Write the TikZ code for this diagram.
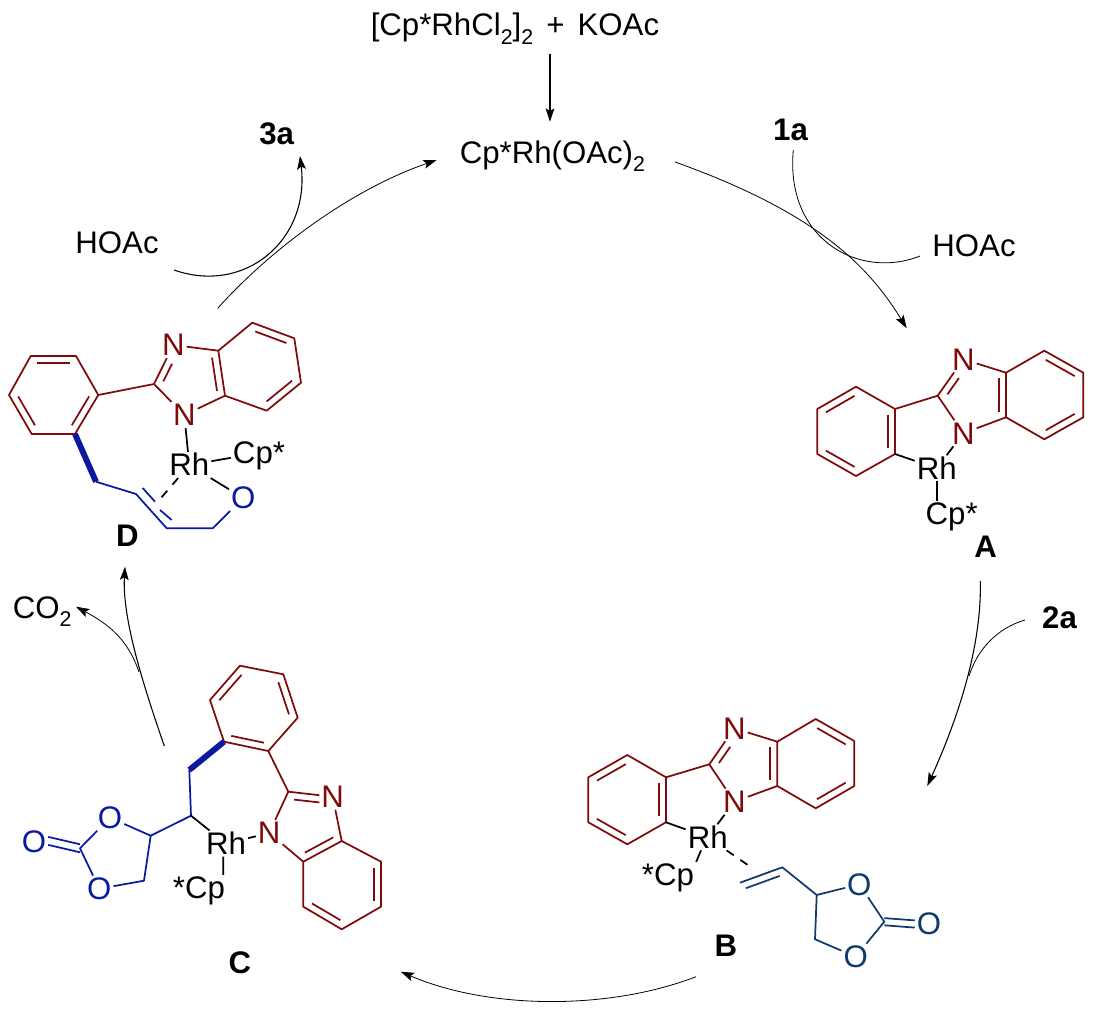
\documentclass[tikz,border=0pt]{standalone}
\usepackage{fontspec}
\setmainfont{Liberation Sans}
\usetikzlibrary{arrows.meta,calc}
\definecolor{mar}{HTML}{7F0A0A}
\definecolor{blu}{HTML}{0A1AA0}
\definecolor{nav}{HTML}{0F3A6B}
\newcommand\sbs[1]{\raisebox{-0.27em}{\fontsize{16}{18}\selectfont #1}}
% inner line of a double bond: from, to, angle, start fraction, end fraction
\newcommand\inb[5]{\draw ($(#1)!#4!(#2)!5.4pt!#3:(#2)$) -- ($(#1)!#5!(#2)!5.4pt!#3:(#2)$);}
\newcommand\rin[2]{\inb{#1}{#2}{-90}{.13}{.87}}
\tikzset{
  atom/.style={inner sep=1.4pt,text height=16.4pt,text depth=0pt,font=\fontsize{23.4}{26}\selectfont},
  lab/.style={inner sep=0pt,text height=16.4pt,text depth=0pt,font=\fontsize{23.4}{26}\selectfont},
  blab/.style={lab,font=\fontsize{23.4}{26}\selectfont\bfseries},
  txt/.style={inner sep=0pt,anchor=base west,font=\fontsize{23.4}{26}\selectfont},
  bond/.style={line width=1.3pt,line join=round},
  heavy/.style={line width=4.4pt},
  flow/.style={line width=.6pt},
  flowa/.style={flow,-{Stealth[length=10pt,width=6.6pt,inset=2pt]}},
  dbd/.style={bond,dash pattern=on 6.5pt off 6pt},
}
\begin{document}
\begin{tikzpicture}[x=.75pt,y=-.75pt]
\useasboundingbox (0,0) rectangle (1093,1012);
% ---------- texts ----------
\node[txt] (pre) at (370.5,36) {[Cp*RhCl\sbs{2}]\sbs{2}\hspace{.42em}+\hspace{.42em}KOAc};
\node[txt] (cat) at (459.5,163.3) {Cp*Rh(OAc)\sbs{2}};
\node[lab] (hoacl) at (117,243) {HOAc};
\node[lab] (hoacr) at (974,246) {HOAc};
\node[blab] (n3a) at (276.7,133.5) {3a};
\node[blab] (n1a) at (790.5,130) {1a};
\node[blab] (n2a) at (1059.5,618) {2a};
\node[txt] (co2) at (12.5,618) {CO\sbs{2}};
\node[blab] (la) at (985.7,546.7) {A};
\node[blab] (lb) at (726,946) {B};
\node[blab] (lc) at (240,963) {C};
\node[blab] (ld) at (127.5,536) {D};
% ---------- cycle arrows ----------
\coordinate (t1) at (550,54.3); \coordinate (t2) at (550,121.7);
\draw[flowa,line width=.8pt] (t1) -- (t2);
\coordinate (ca1) at (675,162); \coordinate (ca2) at (906.7,328.3);
\draw[flowa] (ca1) .. controls (815,212) and (868,265) .. (ca2);
\coordinate (s1) at (793.3,150); \coordinate (s2) at (920,256);
\draw[flow] (s1) .. controls (785,240) and (860,280) .. (s2);
\coordinate (ab1) at (980.3,581); \coordinate (ab2) at (927.3,786);
\draw[flowa,line width=.8pt] (ab1) .. controls (982,650) and (955,725) .. (ab2);
\coordinate (s3) at (1025,620); \coordinate (s4) at (969,676);
\draw[flow] (s3) .. controls (998,628) and (978,648) .. (s4);
\coordinate (bc1) at (696,976.7); \coordinate (bc2) at (400.7,971.7);
\draw[flowa] (bc1) .. controls (610,1010) and (490,1010) .. (bc2);
\coordinate (cd1) at (164.3,746); \coordinate (cd2) at (125,566.7);
\draw[flowa,line width=.8pt] (cd1) .. controls (145,690) and (122,620) .. (cd2);
\coordinate (s5) at (139,672); \coordinate (s6) at (76,606.7);
\draw[flowa] (s5) .. controls (128,640) and (110,625) .. (s6);
\coordinate (dc1) at (217.7,308.3); \coordinate (dc2) at (436.7,160);
\draw[flowa] (dc1) .. controls (270,250) and (350,190) .. (dc2);
\coordinate (s7) at (174,270); \coordinate (s8) at (300,156);
\draw[flowa,line width=.8pt] (s7) .. controls (245,295) and (310,240) .. (s8);

% ---------- A ----------
\foreach \n/\p in {a1/{856,386.7},a2/{895,409},a3/{895,454},a4/{856,476},a5/{817.3,454},a6/{817.3,409},
  ac2/{937.7,395.7},a3a/{1006,372.7},a7a/{1006,417.3},a14/{1044.3,350.7},a15/{1083.3,372.7},a16/{1083.3,417.3},a17/{1044.3,439.3}}
  \coordinate (\n) at (\p);
\node[atom,text=mar] (an3) at (963.3,359.3) {N};
\node[atom,text=mar] (an1) at (963.3,433.3) {N};
\node[atom] (arh) at (936.7,468.3) {Rh};
\node[atom] (acp) at (951.7,514) {Cp*};
\begin{scope}[bond,mar]
\draw (a1)--(a2)--(a3)--(a4)--(a5)--(a6)--cycle;
\rin{a6}{a1}\rin{a2}{a3}\rin{a4}{a5}
\draw (a2)--(ac2)--(an3)--(a3a);
\draw (ac2)--(an1)--(a7a);
\draw (a3a)--(a14)--(a15)--(a16)--(a17)--(a7a)--cycle;
\rin{a14}{a15}\rin{a16}{a17}\rin{a3a}{a7a}
\inb{ac2}{an3}{-90}{.15}{.6}
\end{scope}
\begin{scope}[bond]
\draw (a3)--(arh);
\draw (an1)--(arh);
\draw (arh.south) -- (arh.south |- acp.north);
\end{scope}

% ---------- B ----------
\foreach \n/\p in {b1/{627.3,755},b2/{666,777.3},b3/{666,822.3},b4/{627.3,844.3},b5/{588.3,822.3},b6/{588.3,777.3},
  bc2/{709.3,764.3},b3a/{777.3,741.7},b7a/{777.3,786},b14/{815.7,719},b15/{854.3,741},b16/{854.3,786},b17/{815.7,808.3},
  bdash/{751.7,867.7},bv1/{740,882.7},bv2/{782.3,867.3},bv3/{816.7,895},bcc/{884.3,921.7},bch/{815,939.3}}
  \coordinate (\n) at (\p);
\node[atom,text=mar] (bn3) at (734.3,728.3) {N};
\node[atom,text=mar] (bn1) at (734.3,801.7) {N};
\node[atom] (brh) at (707.7,837.3) {Rh};
\node[atom] (bcp) at (668,875) {*Cp};
\node[atom,text=nav] (bo1) at (859.3,884.3) {O};
\node[atom,text=nav] (bo2) at (929,924) {O};
\node[atom,text=nav] (bo3) at (855.7,956.7) {O};
\begin{scope}[bond,mar]
\draw (b1)--(b2)--(b3)--(b4)--(b5)--(b6)--cycle;
\rin{b6}{b1}\rin{b2}{b3}\rin{b4}{b5}
\draw (b2)--(bc2)--(bn3)--(b3a);
\draw (bc2)--(bn1)--(b7a);
\draw (b3a)--(b14)--(b15)--(b16)--(b17)--(b7a)--cycle;
\rin{b14}{b15}\rin{b16}{b17}\rin{b3a}{b7a}
\inb{bc2}{bn3}{-90}{.15}{.6}
\end{scope}
\begin{scope}[bond]
\draw (b3)--(brh);
\draw (bn1)--(brh);
\draw ([xshift=-5pt]brh.south) -- (bcp.north east);
\draw[dbd] (brh)--(bdash);
\end{scope}
\begin{scope}[bond,nav]
\draw (bv1)--(bv2)--(bv3)--(bo1)--(bcc)--(bo3)--(bch)--(bv3);
\inb{bv1}{bv2}{-90}{.08}{.88}
\draw ([yshift=2.7pt]bcc) -- ([yshift=2.7pt]bo2.west);
\draw ([yshift=-2.7pt]bcc) -- ([yshift=-2.7pt]bo2.west);
\end{scope}

% ---------- C ----------
\foreach \n/\p in {c1/{240,665.7},c2/{283.3,674.3},c3/{297.7,717.7},c4/{268.3,751},c5/{224,741.7},c6/{210,700},
  cc2/{288.3,791.7},c3a/{341.7,841},c7a/{303.3,861.7},c14/{381,861.7},c15/{381,906.7},c16/{341.7,929.3},c17/{303.3,906.7},
  cch/{189.3,770},cct/{191,815.7},crg/{150.7,835.7},cco/{144,880.7},ccc/{80,848.3}}
  \coordinate (\n) at (\p);
\node[atom,text=mar] (cn3) at (332.7,796.7) {N};
\node[atom,text=mar] (cn1) at (269.2,833) {N};
\node[atom] (crh) at (226,843.6) {Rh};
\node[atom] (ccp) at (199,888) {*Cp};
\node[atom,text=blu] (co1) at (110,817.7) {O};
\node[atom,text=blu] (co3) at (99.3,888.7) {O};
\node[atom,text=blu] (co4) at (34,841.7) {O};
\begin{scope}[bond,mar]
\draw (c1)--(c2)--(c3)--(c4)--(c5)--(c6)--cycle;
\rin{c6}{c1}\rin{c2}{c3}\rin{c4}{c5}
\draw (c4)--(cc2)--(cn3)--(c3a);
\draw (cc2)--(cn1)--(c7a);
\draw (c3a)--(c14)--(c15)--(c16)--(c17)--(c7a)--cycle;
\rin{c14}{c15}\rin{c16}{c17}\rin{c3a}{c7a}
\inb{cc2}{cn3}{-90}{.15}{.72}
\end{scope}
\begin{scope}[bond,blu]
\draw[heavy] (c5)--(cch);
\draw (cch)--(cct)--(crg)--(co1)--(ccc)--(co3)--(cco)--(crg);
\draw ([yshift=3pt]ccc) -- ([yshift=3.6pt]co4.east);
\draw ([yshift=-3pt]ccc) -- ([yshift=-2.4pt]co4.east);
\end{scope}
\begin{scope}[bond]
\draw (cct)--(crh);
\draw (crh)--(cn1);
\draw ([xshift=-2pt]crh.south) -- ([xshift=-3pt]ccp.north east);
\end{scope}

% ---------- D ----------
\foreach \n/\p in {d1/{30.7,356},d2/{76,356},d3/{98.3,395},d4/{75,434},d5/{31.7,434},d6/{9,395},
  dc2x/{154,384},d3a/{218.3,350.7},d7a/{225,395.7},d14/{252.3,322.7},d15/{294.3,338.3},d16/{301,382.7},d17/{266.7,410.7},
  dch/{96,481.7},dv1/{136,494},dv2/{166.7,528.3},dch2/{212.7,528.3},ddash/{156.7,503},
  di1/{142.7,488},di2/{155,501.7},di3/{160,510},di4/{171.7,520}}
  \coordinate (\n) at (\p);
\node[atom,text=mar] (dn3) at (173.3,345) {N};
\node[atom,text=mar] (dn1) at (184.3,415) {N};
\node[atom] (drh) at (189.3,465) {Rh};
\node[atom] (dcp) at (259,453) {Cp*};
\node[atom,text=blu] (do) at (243.3,498) {O};
\begin{scope}[bond,mar]
\draw (d1)--(d2)--(d3)--(d4)--(d5)--(d6)--cycle;
\rin{d1}{d2}\rin{d3}{d4}\rin{d5}{d6}
\draw (d3)--(dc2x)--(dn3)--(d3a);
\draw (dc2x)--(dn1)--(d7a);
\draw (d3a)--(d14)--(d15)--(d16)--(d17)--(d7a)--cycle;
\rin{d14}{d15}\rin{d16}{d17}\rin{d3a}{d7a}
\inb{dc2x}{dn3}{-90}{.15}{.6}
\end{scope}
\begin{scope}[bond,blu]
\draw[heavy] (d4)--(dch);
\draw (dch)--(dv1)--(dv2)--(dch2)--(do);
\draw (di1)--(di2);
\draw (di3)--(di4);
\end{scope}
\begin{scope}[bond]
\draw (dn1)--(drh);
\draw (drh)--(dcp);
\draw (drh)--(do);
\draw[dbd] (drh)--(ddash);
\end{scope}
\end{tikzpicture}
\end{document}
